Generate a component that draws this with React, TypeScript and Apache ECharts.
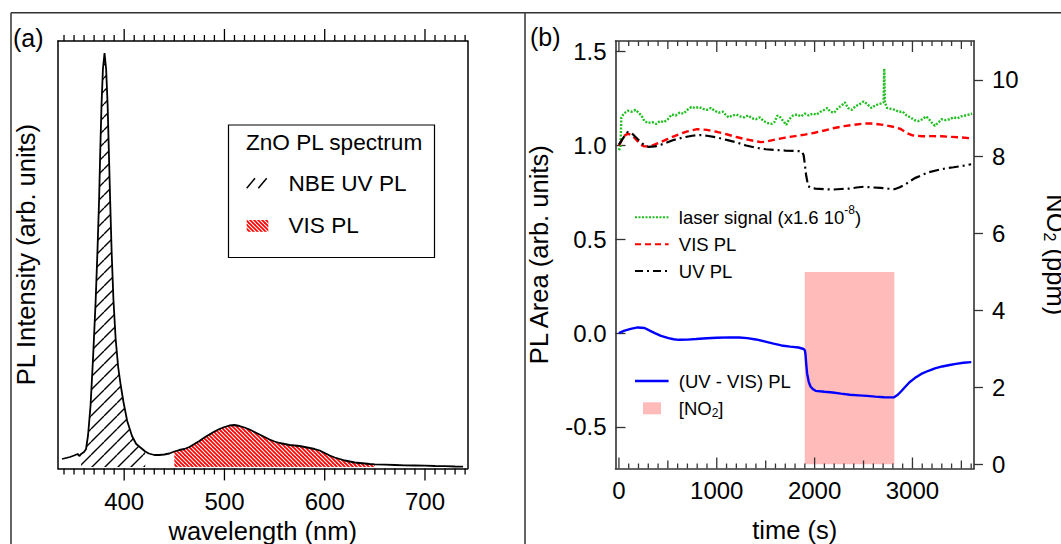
import React, { useEffect, useRef } from "react";
import * as echarts from "echarts";

const FONT = "'Liberation Sans', Arial, Helvetica, sans-serif";

// ---------------- Panel (a): ZnO PL spectrum ----------------
const SPECTRUM: number[][] = [
  [338, 8], [342, 9], [346, 10], [350, 11.5], [353.5, 13], [355.5, 11], [357, 13], [360, 15],
  [362, 18], [364, 32], [366.5, 62], [369, 110], [371.5, 165], [373.5, 220], [375, 268],
  [376.2, 318], [377.4, 362], [378.8, 398], [380.4, 414], [382, 398], [383.5, 362], [385, 305],
  [386, 267], [387.5, 215], [389.3, 167], [391.5, 128], [394, 100], [396.5, 82], [399.3, 65],
  [403, 46], [407.8, 31], [412, 23], [418, 18], [421, 15.5], [424.6, 13.5], [430, 12], [435, 12],
  [440, 12.5], [445, 13.5], [450, 15.5], [455, 17], [460, 18], [465, 20], [470, 23], [475, 26],
  [480, 29.5], [485, 32.5], [490, 35.5], [495, 38], [500, 40], [505, 41.5], [510, 42], [515, 41],
  [520, 39.5], [525, 37.5], [530, 35], [535, 32.5], [540, 30], [545, 27.5], [550, 25.5], [555, 24],
  [560, 23], [565, 22], [570, 21.5], [575, 21], [580, 20], [585, 19], [590, 18], [595, 16.5],
  [600, 14], [605, 11.5], [610, 9.5], [615, 8], [620, 6.5], [625, 5.5], [630, 4.5], [635, 4],
  [640, 3.5], [645, 3], [650, 2.6], [660, 2.3], [670, 2], [680, 1.7], [690, 1.5], [700, 1.3],
  [710, 1.0], [720, 0.8], [730, 0.5], [738, 0.3],
];
const UV_BAND = [357, 421];
const VIS_BAND = [450, 650];
const WL_LABELS = [400, 500, 600, 700];
const WL_MINOR: number[] = [];
for (let w = 340; w <= 740; w += 10) WL_MINOR.push(w);
const LEGEND_A = ["ZnO PL spectrum", "NBE UV PL", "VIS PL"];

// ---------------- Panel (b): PL area vs time ----------------
const LASER: number[][] = [
  [0, 0.975], [15, 0.99], [25, 1.15], [50, 1.17], [90, 1.185], [130, 1.18], [170, 1.19], [200, 1.175],
  [230, 1.16], [260, 1.13], [300, 1.12], [340, 1.125], [380, 1.115], [420, 1.13], [460, 1.125],
  [500, 1.14], [540, 1.165], [580, 1.16], [620, 1.175], [660, 1.17], [700, 1.19], [740, 1.205],
  [780, 1.2], [820, 1.205], [860, 1.195], [900, 1.19], [940, 1.2], [980, 1.185], [1020, 1.175],
  [1060, 1.18], [1090, 1.165], [1120, 1.15], [1160, 1.16], [1200, 1.165], [1240, 1.155],
  [1280, 1.15], [1320, 1.16], [1360, 1.145], [1400, 1.14], [1440, 1.15], [1480, 1.13], [1520, 1.12],
  [1560, 1.115], [1590, 1.125], [1620, 1.16], [1650, 1.15], [1680, 1.13], [1710, 1.11], [1740, 1.14],
  [1780, 1.16], [1820, 1.165], [1860, 1.155], [1900, 1.17], [1940, 1.16], [1980, 1.17], [2020, 1.165],
  [2060, 1.18], [2100, 1.19], [2130, 1.2], [2160, 1.18], [2200, 1.175], [2240, 1.2], [2280, 1.215],
  [2310, 1.23], [2340, 1.2], [2380, 1.19], [2420, 1.21], [2460, 1.22], [2500, 1.235], [2540, 1.22],
  [2580, 1.2], [2610, 1.21], [2650, 1.22], [2690, 1.225], [2705, 1.23], [2712, 1.41], [2718, 1.23],
  [2740, 1.2], [2780, 1.195], [2820, 1.19], [2860, 1.18], [2900, 1.18], [2940, 1.16], [2980, 1.15],
  [3020, 1.135], [3060, 1.13], [3100, 1.14], [3140, 1.155], [3170, 1.14], [3200, 1.12], [3230, 1.105],
  [3260, 1.12], [3300, 1.14], [3340, 1.135], [3380, 1.14], [3420, 1.15], [3460, 1.145], [3500, 1.155],
  [3540, 1.16], [3580, 1.165], [3610, 1.17],
];
const VIS_PL: number[][] = [
  [0, 1.0], [50, 1.05], [90, 1.063], [130, 1.055], [170, 1.035], [220, 1.005], [260, 0.995],
  [320, 0.995], [400, 1.012], [500, 1.035], [600, 1.057], [700, 1.075], [800, 1.087], [900, 1.083],
  [1000, 1.073], [1100, 1.06], [1200, 1.045], [1300, 1.033], [1400, 1.022], [1450, 1.018],
  [1500, 1.02], [1600, 1.032], [1700, 1.042], [1800, 1.05], [1900, 1.058], [2000, 1.068],
  [2100, 1.08], [2200, 1.093], [2300, 1.103], [2400, 1.11], [2500, 1.117], [2600, 1.117],
  [2700, 1.11], [2800, 1.1], [2880, 1.088], [2950, 1.065], [3000, 1.054], [3100, 1.049],
  [3200, 1.05], [3300, 1.049], [3400, 1.046], [3500, 1.043], [3600, 1.038],
];
const UV_PL: number[][] = [
  [0, 1.005], [50, 1.045], [90, 1.072], [130, 1.066], [170, 1.045], [210, 1.025], [260, 1.0],
  [300, 0.993], [370, 0.995], [450, 1.008], [550, 1.028], [650, 1.042], [750, 1.052], [830, 1.056],
  [900, 1.052], [1000, 1.043], [1100, 1.03], [1200, 1.017], [1300, 1.0], [1400, 0.988],
  [1500, 0.98], [1600, 0.976], [1700, 0.973], [1800, 0.971], [1870, 0.969], [1888, 0.948],
  [1900, 0.9], [1913, 0.843], [1934, 0.783], [1970, 0.772], [2010, 0.77], [2100, 0.767],
  [2185, 0.765], [2270, 0.768], [2360, 0.77], [2430, 0.776], [2500, 0.78], [2600, 0.776],
  [2675, 0.774], [2750, 0.77], [2815, 0.767], [2870, 0.777], [2920, 0.79], [2970, 0.808],
  [3024, 0.826], [3100, 0.843], [3164, 0.857], [3250, 0.868], [3339, 0.878], [3420, 0.884],
  [3500, 0.89], [3600, 0.9],
];
const UV_MINUS_VIS: number[][] = [
  [0, 0], [50, 0.012], [120, 0.022], [192, 0.03], [262, 0.027], [320, 0.012], [367, 0],
  [430, -0.015], [507, -0.027], [560, -0.033], [612, -0.036], [700, -0.035], [787, -0.032],
  [900, -0.028], [1000, -0.025], [1136, -0.023], [1230, -0.024], [1311, -0.027], [1400, -0.034],
  [1486, -0.044], [1580, -0.056], [1661, -0.066], [1750, -0.072], [1836, -0.077], [1888, -0.085],
  [1900, -0.092], [1906, -0.11], [1915, -0.17], [1923, -0.214], [1940, -0.26], [1958, -0.285],
  [1985, -0.3], [2010, -0.308], [2100, -0.313], [2185, -0.317], [2270, -0.323], [2360, -0.329],
  [2450, -0.332], [2535, -0.335], [2620, -0.339], [2710, -0.342], [2808, -0.343], [2850, -0.329],
  [2885, -0.31], [2920, -0.29], [2970, -0.262], [3024, -0.24], [3090, -0.218], [3164, -0.201],
  [3230, -0.188], [3304, -0.178], [3380, -0.17], [3444, -0.164], [3520, -0.158], [3601, -0.155],
];
const NO2_PPM: number[][] = [[1899, 0], [1899, 5], [2815, 5], [2815, 0]];
const TIME_LABELS = [0, 1000, 2000, 3000];
const TIME_MEDIUM = [500, 1500, 2500, 3500];
const TIME_MINOR: number[] = [];
for (let t = 0; t <= 3600; t += 100) TIME_MINOR.push(t);
const PL_TICKS = [-0.5, 0, 0.5, 1.0, 1.5];
const NO2_TICKS = [0, 2, 4, 6, 8, 10];

const A_X = [334, 742.4];
const A_Y = [-1.4, 426];
const B_X = [-35, 3629];
const B_Y = [-0.722, 1.557];
const B_Y2 = [-0.11, 11.01];

const GRID_A = { left: 58, top: 41, width: 409.5, height: 427.4 };
const GRID_B = { left: 615.5, top: 41, width: 358.5, height: 427.5 };

function hatch(size: number, step: number, bg: string | null, fg: string, lw: number, dir: string) {
  const c = document.createElement("canvas");
  c.width = size;
  c.height = size;
  const g = c.getContext("2d") as CanvasRenderingContext2D;
  g.clearRect(0, 0, size, size);
  if (bg) {
    g.fillStyle = bg;
    g.fillRect(0, 0, size, size);
  }
  g.strokeStyle = fg;
  g.lineWidth = lw;
  g.beginPath();
  for (let o = -size; o <= size; o += step) {
    if (dir === "/") {
      g.moveTo(o, size);
      g.lineTo(o + size, 0);
    } else {
      g.moveTo(o, 0);
      g.lineTo(o + size, size);
    }
  }
  g.stroke();
  return { image: c.toDataURL("image/png"), imageWidth: size, imageHeight: size, repeat: "repeat" };
}

const txt = (x: number, y: number, text: string, size: number, extra: any = {}) => ({
  type: "text",
  x,
  y,
  silent: true,
  style: {
    text,
    fontSize: size,
    fontFamily: FONT,
    fill: "#000",
    align: "left",
    verticalAlign: "middle",
    textAlign: "left",
    textVerticalAlign: "middle",
    ...extra,
  },
});
const seg = (x1: number, y1: number, x2: number, y2: number, stroke: string, lw: number, dash?: number[]) => ({
  type: "line",
  silent: true,
  shape: { x1, y1, x2, y2 },
  style: { stroke, lineWidth: lw, lineDash: dash || null },
});
const vbar = (x: number, yA: number, yB: number, fill: string, w: number) => ({
  type: "rect",
  silent: true,
  z: 100,
  shape: { x: x - w / 2, y: Math.min(yA, yB), width: w, height: Math.abs(yB - yA) },
  style: { fill },
});

export default function App() {
  const ref = useRef<HTMLDivElement>(null);
  useEffect(() => {
    if (!ref.current) return;
    const chart = echarts.init(ref.current, null, { renderer: "svg" });
    const blackHatch = hatch(13, 13, null, "#000", 1.4, "/");
    const redHatch = hatch(8, 4, "#ff0000", "#ffffff", 1.1, "\\");

    const noLine = { show: false };
    const lineA = { show: true, onZero: false, lineStyle: { color: "#000", width: 1.5 } };
    const lineB = { show: true, onZero: false, lineStyle: { color: "#333", width: 1.6 } };
    const tickFont = { fontSize: 24, fontFamily: FONT, color: "#000" };
    const nameFont = { fontSize: 25.5, fontFamily: FONT, color: "#000" };

    const inBand = (band: number[]) => SPECTRUM.filter((p) => p[0] >= band[0] && p[0] <= band[1]);
    const wlLen = (v: number) => (WL_LABELS.indexOf(v) >= 0 ? 12 : 6);
    const tLen = (v: number) => (TIME_LABELS.indexOf(v) >= 0 ? 11 : TIME_MEDIUM.indexOf(v) >= 0 ? 8 : 5);

    const staticGraphics: any[] = [
      seg(11, 12.7, 1061, 12.7, "#333", 1.5),
      seg(11, 12.7, 11, 544, "#333", 1.5),
      seg(525, 12.7, 525, 544, "#333", 1.5),
      txt(13, 37.5, "(a)", 25),
      txt(530, 37, "(b)", 25),
      // legend (a)
      {
        type: "rect", silent: true, shape: { x: 228.5, y: 125, width: 206, height: 132.5 },
        style: { fill: "#fff", stroke: "#000", lineWidth: 1.2 }, z: 10,
      },
      { ...txt(246, 142, LEGEND_A[0], 22.6), z: 11 },
      { ...seg(246.7, 188.3, 255, 178.3, "#000", 1.5), z: 11 },
      { ...seg(258.3, 188.3, 266.7, 178.3, "#000", 1.5), z: 11 },
      { ...txt(288.5, 183, LEGEND_A[1], 22.6), z: 11 },
      {
        type: "rect", silent: true, shape: { x: 246.7, y: 220, width: 21.6, height: 11.7 },
        style: { fill: redHatch }, z: 11,
      },
      { ...txt(288.5, 225.5, LEGEND_A[2], 22.6), z: 11 },
      // legend (b)
      seg(635, 217.3, 668.6, 217.3, "#1fbf1f", 2, [2, 1.5]),
      txt(678.8, 217.3, "{n|laser signal (x1.6 10}{s|-8}{n|)}", 18.5, {
        rich: {
          n: { fontSize: 18.5, fontFamily: FONT, fill: "#000", lineHeight: 26 },
          s: { fontSize: 12, fontFamily: FONT, fill: "#000", lineHeight: 12, verticalAlign: "top" },
        },
      }),
      seg(635, 244.3, 668.6, 244.3, "#ff0000", 2, [6, 4]),
      txt(678.8, 244.3, "VIS PL", 18.5),
      seg(635, 271, 668.6, 271, "#000", 2, [8, 4, 2, 4]),
      txt(678.8, 271, "UV PL", 18.5),
      seg(635, 381, 668.6, 381, "#0000ff", 2.4),
      txt(678.8, 381, "(UV - VIS) PL", 18.5),
      {
        type: "rect", silent: true, shape: { x: 643, y: 402.3, width: 18, height: 12 },
        style: { fill: "#ffbaba" },
      },
      txt(678.8, 408.3, "{n|[NO}{s|2}{n|]}", 18.5, {
        rich: {
          n: { fontSize: 18.5, fontFamily: FONT, fill: "#000", lineHeight: 22 },
          s: { fontSize: 12, fontFamily: FONT, fill: "#000", lineHeight: 12, verticalAlign: "bottom" },
        },
      }),
    ];

    const option: any = {
      animation: false,
      grid: [
        { ...GRID_A, containLabel: false, outerBoundsMode: "none" },
        { ...GRID_B, containLabel: false, outerBoundsMode: "none" },
      ],
      xAxis: [
        {
          type: "value", gridIndex: 0, position: "bottom", min: A_X[0], max: A_X[1],
          axisLine: lineA, splitLine: noLine, axisTick: { show: false },
          axisLabel: { show: true, customValues: WL_LABELS, margin: 21, ...tickFont, formatter: (v: number) => String(v) },
          name: "wavelength (nm)", nameLocation: "middle", nameGap: 49, nameTextStyle: nameFont,
        },
        {
          type: "value", gridIndex: 0, position: "top", min: A_X[0], max: A_X[1],
          axisLine: lineA, splitLine: noLine, axisTick: { show: false }, axisLabel: { show: false },
        },
        {
          type: "value", gridIndex: 1, position: "bottom", min: B_X[0], max: B_X[1],
          axisLine: lineB, splitLine: noLine, axisTick: { show: false },
          axisLabel: { show: true, customValues: TIME_LABELS, margin: 9.5, ...tickFont, formatter: (v: number) => String(v) },
          name: "time (s)", nameLocation: "middle", nameGap: 48, nameTextStyle: nameFont,
        },
        {
          type: "value", gridIndex: 1, position: "top", min: B_X[0], max: B_X[1],
          axisLine: lineB, splitLine: noLine, axisTick: { show: false }, axisLabel: { show: false },
        },
      ],
      yAxis: [
        {
          type: "value", gridIndex: 0, position: "left", min: A_Y[0], max: A_Y[1],
          axisLine: lineA, splitLine: noLine, axisTick: { show: false }, axisLabel: { show: false },
          name: "PL Intensity (arb. units)", nameLocation: "middle", nameGap: 19, nameTextStyle: nameFont,
        },
        {
          type: "value", gridIndex: 0, position: "right", min: A_Y[0], max: A_Y[1],
          axisLine: lineA, splitLine: noLine, axisTick: { show: false }, axisLabel: { show: false },
        },
        {
          type: "value", gridIndex: 1, position: "left", min: B_Y[0], max: B_Y[1],
          axisLine: lineB, splitLine: noLine,
          axisTick: { show: true, inside: true, length: 10, customValues: PL_TICKS, lineStyle: { color: "#333", width: 1.3 } },
          axisLabel: {
            show: true, customValues: PL_TICKS, margin: 9, ...tickFont,
            formatter: (v: number) => v.toFixed(1),
          },
          name: "PL Area (arb. units)", nameLocation: "middle", nameGap: 64, nameTextStyle: nameFont,
        },
        {
          type: "value", gridIndex: 1, position: "right", min: B_Y2[0], max: B_Y2[1],
          axisLine: lineB, splitLine: noLine,
          axisTick: { show: true, inside: false, length: 9, customValues: NO2_TICKS, lineStyle: { color: "#333", width: 1.3 } },
          axisLabel: { show: true, customValues: NO2_TICKS, margin: 18, ...tickFont, formatter: (v: number) => String(v) },
          name: "{n|NO}{s|2}{n| (ppm)}", nameLocation: "middle", nameGap: 67, nameRotate: -90,
          nameTextStyle: {
            ...nameFont,
            rich: {
              n: { fontSize: 25.5, fontFamily: FONT, color: "#000", lineHeight: 30 },
              s: { fontSize: 16, fontFamily: FONT, color: "#000", lineHeight: 16, verticalAlign: "bottom" },
            },
          },
        },
      ],
      series: [
        {
          type: "line", xAxisIndex: 0, yAxisIndex: 0, data: inBand(UV_BAND), symbol: "none",
          lineStyle: { width: 0 }, areaStyle: { color: blackHatch, opacity: 1 }, z: 1, silent: true,
        },
        {
          type: "line", xAxisIndex: 0, yAxisIndex: 0, data: inBand(VIS_BAND), symbol: "none",
          lineStyle: { width: 0 }, areaStyle: { color: redHatch, opacity: 1 }, z: 1, silent: true,
        },
        {
          type: "line", xAxisIndex: 0, yAxisIndex: 0, data: SPECTRUM, symbol: "none",
          lineStyle: { color: "#000", width: 1.8 }, z: 3, silent: true,
        },
        {
          type: "line", xAxisIndex: 2, yAxisIndex: 3, data: NO2_PPM, symbol: "none",
          lineStyle: { width: 0 }, areaStyle: { color: "#ffbaba", opacity: 1 }, z: 1, silent: true,
        },
        {
          type: "line", xAxisIndex: 2, yAxisIndex: 2, data: LASER, symbol: "none",
          lineStyle: { color: "#1fbf1f", width: 2.4, type: [2, 1.5] }, z: 3, silent: true,
        },
        {
          type: "line", xAxisIndex: 2, yAxisIndex: 2, data: VIS_PL, symbol: "none",
          lineStyle: { color: "#ff0000", width: 2.4, type: [7, 4] }, z: 3, silent: true,
        },
        {
          type: "line", xAxisIndex: 2, yAxisIndex: 2, data: UV_PL, symbol: "none",
          lineStyle: { color: "#000", width: 2.2, type: [10, 4, 2, 4] }, z: 3, silent: true,
        },
        {
          type: "line", xAxisIndex: 2, yAxisIndex: 2, data: UV_MINUS_VIS, symbol: "none",
          lineStyle: { color: "#0000ff", width: 2.4 }, z: 4, silent: true,
        },
      ],
      graphic: { elements: staticGraphics },
    };
    chart.setOption(option);

    // x-axis tick marks on both frame edges; x through the axes' own scales
    const ticks: any[] = [];
    const addTicks = (xi: number, grid: any, values: number[], outward: boolean,
      lenOf: (v: number) => number, color: string) => {
      const yb = grid.top + grid.height;
      const yt = grid.top;
      const d = outward ? 1 : -1;
      values.forEach((v) => {
        const x = Number(chart.convertToPixel({ xAxisIndex: xi } as any, v));
        const len = lenOf(v);
        ticks.push(vbar(x, yb, yb + d * len, color, 1.3));
        ticks.push(vbar(x, yt, yt - d * len, color, 1.3));
      });
    };
    addTicks(0, GRID_A, WL_MINOR, true, wlLen, "#000");
    addTicks(2, GRID_B, TIME_MINOR, false, tLen, "#333");
    chart.setOption({ graphic: { elements: staticGraphics.concat(ticks) } });

    return () => chart.dispose();
  }, []);
  return (
    <div
      ref={ref}
      style={{ position: "absolute", left: 0, top: 0, width: 1061, height: 544, background: "#fff" }}
    />
  );
}
